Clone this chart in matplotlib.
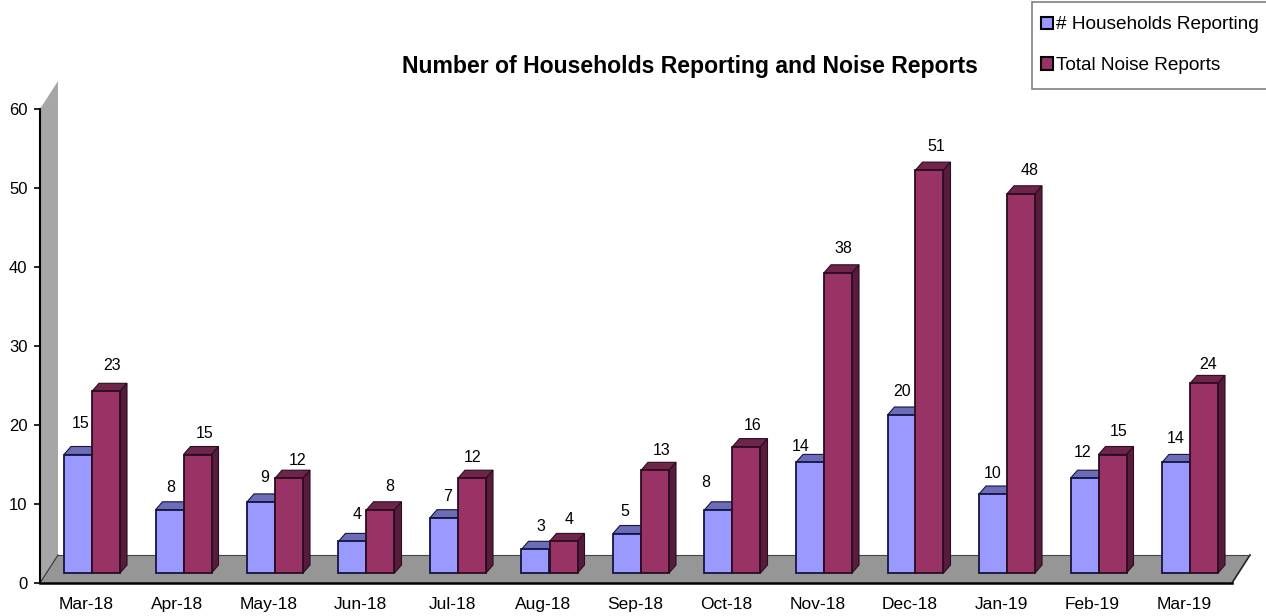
import matplotlib
matplotlib.use('Agg')
import matplotlib.pyplot as plt
from matplotlib.legend_handler import HandlerPatch
from matplotlib.patches import Patch, Polygon, Rectangle
import numpy as np

plt.rcParams['font.family'] = ['Liberation Sans', 'DejaVu Sans']

# Data
meses = ['Mar-18', 'Apr-18', 'May-18', 'Jun-18', 'Jul-18', 'Aug-18', 'Sep-18',
         'Oct-18', 'Nov-18', 'Dec-18', 'Jan-19', 'Feb-19', 'Mar-19']
households = [15, 8, 9, 4, 7, 3, 5, 8, 14, 20, 10, 12, 14]
noise = [23, 15, 12, 8, 12, 4, 13, 16, 38, 51, 48, 15, 24]

# Hand placed value labels (pixels from the centre of the bar's top edge)
nudge_households = [(3, 31), (1.5, 22), (4, 24), (4.5, 27), (4, 21), (5.5, 23), (-2, 21.5),
                    (-12.5, 27), (-9, 16), (0.5, 23), (0, 20), (-1.5, 26), (0, 24)]
nudge_noise = [(6, 26), (7.5, 20.5), (9, 18), (9.5, 23), (1, 21), (5.5, 22), (7, 20),
               (6.5, 21.5), (5, 24), (6.5, 24), (9, 23), (6.5, 22.5), (4, 19)]

# Scale of the plot in pixels, used to fake the 3D look
W, H = 1266, 616
left, right, y0_px, y60_px = 40, 1232, 583, 109
px_x = 91.5                 # one category
px_y = (y0_px - y60_px) / 60  # one unit
center0 = 92                # pixel of first group centre

dx = 7 / px_x               # bar depth
dy = 8 / px_y
floor_dx = 18 / px_x        # wall / floor depth
floor_dy = 28 / px_y
base = 10 / px_y            # bars stand on the floor, above the axis
ancho = 28 / px_x

fig = plt.figure(figsize=(W / 100, H / 100), dpi=100)
ax = fig.add_axes([left / W, 1 - y0_px / H, (right - left) / W, (y0_px - y60_px) / H])
ax.set_xlim((left - center0) / px_x, (right - center0) / px_x)
ax.set_ylim(0, 60)

x0, x1 = ax.get_xlim()

# Wall and floor
ax.add_patch(Polygon([(x0, 0), (x0 + floor_dx, floor_dy), (x0 + floor_dx, 60 + floor_dy), (x0, 60)],
                     closed=True, fc='#a6a6a6', ec='none', clip_on=False, zorder=1))
ax.add_patch(Polygon([(x0, 0), (x0 + floor_dx, floor_dy), (x1 + floor_dx, floor_dy), (x1, 0)],
                     closed=True, fc='#969696', ec='none', clip_on=False, zorder=1))
ax.plot([x1, x1 + floor_dx, x1 + floor_dx], [0, floor_dy, floor_dy], color='#222222', lw=1.2,
        clip_on=False, zorder=2)
ax.plot([x0 + floor_dx, x1 + floor_dx], [floor_dy, floor_dy], color='#444444', lw=0.8,
        clip_on=False, zorder=2)
ax.plot([x0, x0 + floor_dx], [0, floor_dy], color='#333333', lw=0.8, clip_on=False, zorder=2)


def barras(xs, valores, color, techo, lado, borde, z):
    for xi, v in zip(xs, valores):
        a, b = xi - ancho / 2, xi + ancho / 2
        top = v + base
        # top face and side face
        ax.add_patch(Polygon([(a, top), (a + dx, top + dy), (b + dx, top + dy), (b, top)],
                             closed=True, fc=techo, ec=borde, lw=0.8, zorder=z))
        ax.add_patch(Polygon([(b, base), (b + dx, base + dy), (b + dx, top + dy), (b, top)],
                             closed=True, fc=lado, ec=borde, lw=0.8, zorder=z))
    ax.bar(xs, valores, ancho, bottom=base, color=color, edgecolor=borde, linewidth=1.3, zorder=z + 0.5)


pos = np.arange(len(meses))
barras(pos - ancho / 2, households, '#9999ff', '#6c6cb8', '#4a4a88', '#15153f', 3)
barras(pos + ancho / 2, noise, '#993366', '#6e2549', '#571c3c', '#2a0d20', 4)

# Value labels
for xs, valores, nudges in [(pos - ancho / 2, households, nudge_households),
                            (pos + ancho / 2, noise, nudge_noise)]:
    for xi, v, (nx, ny) in zip(xs, valores, nudges):
        ax.annotate(str(v), (xi, v + base), xytext=(nx, ny), textcoords='offset pixels',
                    ha='center', va='center', fontsize=11.5, color='black', zorder=6)

# Axes
for lado_eje in ['top', 'right']:
    ax.spines[lado_eje].set_visible(False)
ax.spines['left'].set_linewidth(1.5)
ax.spines['bottom'].set_linewidth(1.8)
ax.spines['left'].set_zorder(5)
ax.spines['bottom'].set_zorder(5)
ax.set_yticks(range(0, 61, 10))
ax.tick_params(axis='y', length=4, width=1.2, labelsize=12, pad=5)
# x labels sit slightly left of the group centres
ax.set_xticks(pos - 6 / px_x)
ax.set_xticklabels(meses, fontsize=12.5)
ax.tick_params(axis='x', length=0, pad=10)

fig.text(690 / W, 1 - 67 / H, 'Number of Households Reporting and Noise Reports',
         ha='center', va='center', fontsize=16.6, fontweight='bold', color='black')


# Legend swatch sits further left than matplotlib would put it
def muestra(legend, orig_handle, xdescent, ydescent, width, height, fontsize):
    return Rectangle((-xdescent - 3.6, -ydescent), width, height)


handles = [Patch(facecolor='#9999ff', edgecolor='black', linewidth=1.5),
           Patch(facecolor='#993366', edgecolor='black', linewidth=1.5)]
leg = fig.legend(handles, ['# Households Reporting', 'Total Noise Reports'],
                 loc='upper left', bbox_to_anchor=(1032 / W, 1 - 2 / H), fontsize=13.7,
                 frameon=True, fancybox=False, framealpha=1, edgecolor='#808080',
                 handlelength=0.6, handleheight=0.6, handletextpad=-0.1,
                 labelspacing=1.26, borderpad=0.75, borderaxespad=0,
                 handler_map={Patch: HandlerPatch(patch_func=muestra)})
leg.get_frame().set_linewidth(1.2)

fig.savefig('out.png', dpi=100)
